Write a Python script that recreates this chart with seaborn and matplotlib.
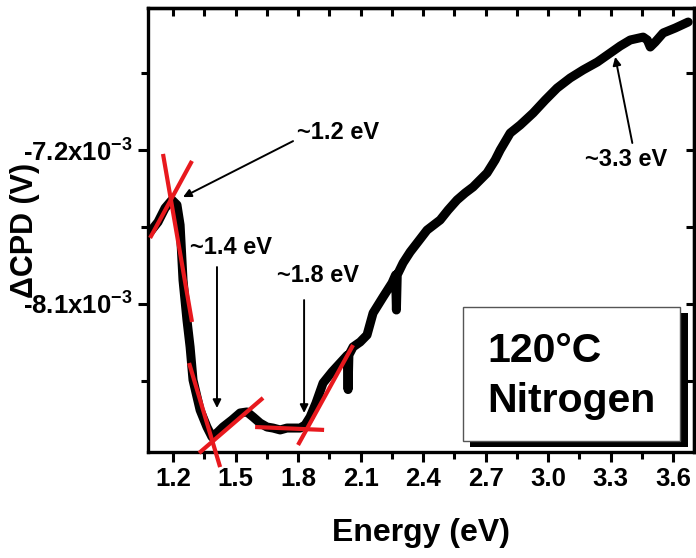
import numpy as np
import pandas as pd
import matplotlib
matplotlib.use("Agg")
import matplotlib.pyplot as plt
import seaborn as sns
from matplotlib.ticker import MultipleLocator, FixedLocator, FixedFormatter
from matplotlib.patches import Rectangle

# ---- data ----
energy = [1.090, 1.128, 1.162, 1.195, 1.219, 1.234, 1.248, 1.267, 1.282, 1.296,
          1.330, 1.363, 1.387, 1.416, 1.440, 1.483, 1.522, 1.555, 1.584, 1.618,
          1.651, 1.680, 1.714, 1.747, 1.776, 1.810, 1.834, 1.858, 1.886, 1.920,
          1.963, 2.002, 2.036, 2.040, 2.044, 2.064, 2.098, 2.131, 2.160, 2.208,
          2.251, 2.268, 2.272, 2.276, 2.304, 2.338, 2.371, 2.419, 2.482, 2.520,
          2.563, 2.602, 2.640, 2.707, 2.746, 2.770, 2.818, 2.866, 2.928, 2.986,
          3.043, 3.106, 3.168, 3.236, 3.298, 3.346, 3.394, 3.456, 3.476, 3.490,
          3.514, 3.552, 3.610, 3.672]
dcpd_mV = [-7.679, -7.621, -7.539, -7.492, -7.521, -7.638, -7.960, -8.194, -8.351, -8.544,
           -8.720, -8.819, -8.877, -8.848, -8.819, -8.778, -8.737, -8.731, -8.760, -8.796,
           -8.819, -8.825, -8.836, -8.825, -8.825, -8.825, -8.807, -8.760, -8.679, -8.562,
           -8.497, -8.445, -8.400, -8.600, -8.398, -8.351, -8.322, -8.281, -8.153, -8.059,
           -7.977, -7.930, -8.135, -7.930, -7.860, -7.796, -7.744, -7.668, -7.609, -7.551,
           -7.492, -7.451, -7.416, -7.334, -7.258, -7.200, -7.101, -7.054, -6.984, -6.908,
           -6.838, -6.779, -6.732, -6.686, -6.633, -6.592, -6.557, -6.540, -6.557, -6.598,
           -6.569, -6.516, -6.487, -6.452]

# tangent (fit) lines: start / end points
fit_x = [[1.152, 1.291], [1.090, 1.291], [1.277, 1.426],
         [1.325, 1.632], [1.594, 1.925], [1.800, 2.064]]
fit_y_mV = [[-7.223, -8.205], [-7.714, -7.264], [-8.445, -9.053],
            [-8.971, -8.649], [-8.819, -8.836], [-8.924, -8.340]]

# annotations: label, text position, arrow tail, arrow tip (energy, mV)
ann_labels = ["~1.2 eV", "~1.4 eV", "~1.8 eV", "~3.3 eV"]
ann_text_pos = [(1.795, -7.095), (1.282, -7.767), (1.699, -7.931), (3.178, -7.258)]
ann_tail = [(1.776, -7.148), (1.411, -7.884), (1.829, -8.077), (3.404, -7.159)]
ann_tip = [(1.248, -7.475), (1.411, -8.708), (1.829, -8.737), (3.322, -6.656)]

xticks = [1.2, 1.5, 1.8, 2.1, 2.4, 2.7, 3.0, 3.3, 3.6]
yticks = [-7.2e-3, -8.1e-3]
ytick_labels = ["-7.2x10$^{-3}$", "-8.1x10$^{-3}$"]
box_lines = ["120°C", "Nitrogen"]

# ---- style ----
sns.set_theme(style="white")
plt.rcParams['font.family'] = ['Liberation Sans', 'DejaVu Sans']
plt.rcParams['font.weight'] = 'bold'
plt.rcParams['text.color'] = 'black'
plt.rcParams['axes.labelcolor'] = 'black'
plt.rcParams['xtick.color'] = 'black'
plt.rcParams['ytick.color'] = 'black'
plt.rcParams['mathtext.fontset'] = 'custom'
plt.rcParams['mathtext.rm'] = 'Liberation Sans:bold'
plt.rcParams['mathtext.bf'] = 'Liberation Sans:bold'
plt.rcParams['mathtext.default'] = 'bf'

W, H = 696, 558
fig = plt.figure(figsize=(W / 100, H / 100), dpi=100)
ax = fig.add_axes([148 / W, 1 - 452 / H, 546 / W, 444 / H])

df = pd.DataFrame({"Energy": energy, "dCPD": np.array(dcpd_mV) * 1e-3})
sns.lineplot(data=df, x="Energy", y="dCPD", ax=ax, color="black", lw=6.5,
             sort=False, estimator=None, solid_capstyle="round",
             solid_joinstyle="round", zorder=3)

red = "#e8191e"
for fx, fy in zip(fit_x, fit_y_mV):
    ax.plot(fx, np.array(fy) * 1e-3, color=red, lw=3, zorder=4, clip_on=False,
            solid_capstyle="butt")

for lab, tp, tl, tip in zip(ann_labels, ann_text_pos, ann_tail, ann_tip):
    ax.text(tp[0], tp[1] * 1e-3, lab, fontsize=17, fontweight="bold",
            color="black", ha="left", va="center", zorder=6)
    ax.annotate("", xy=(tip[0], tip[1] * 1e-3), xytext=(tl[0], tl[1] * 1e-3),
                arrowprops=dict(arrowstyle="-|>", color="black", lw=1.4,
                                mutation_scale=12, shrinkA=0, shrinkB=0),
                zorder=6)

ax.set_xlim(1.080, 3.700)
ax.set_ylim(-8.965e-3, -6.370e-3)

ax.xaxis.set_major_locator(FixedLocator(xticks))
ax.xaxis.set_minor_locator(MultipleLocator(0.15))
ax.set_xticklabels([f"{v:.1f}" for v in xticks])
ax.yaxis.set_major_locator(FixedLocator(yticks))
ax.yaxis.set_major_formatter(FixedFormatter(ytick_labels))
ax.yaxis.set_minor_locator(MultipleLocator(0.45e-3))

for s in ax.spines.values():
    s.set_linewidth(2.4)
    s.set_color("black")

ax.tick_params(axis="both", which="major", direction="out", length=7, width=2.2,
               labelsize=18.5, pad=4, color="black", labelcolor="black")
ax.tick_params(axis="both", which="minor", direction="out", length=5, width=2.2,
               color="black")
ax.tick_params(bottom=True, left=True, which="both")
for lab in ax.get_xticklabels() + ax.get_yticklabels():
    lab.set_fontweight("bold")

top = ax.secondary_xaxis("top")
top.xaxis.set_major_locator(FixedLocator(xticks))
top.xaxis.set_minor_locator(MultipleLocator(0.15))
top.tick_params(which="both", direction="in", length=6, width=2.2, labeltop=False)
top.spines["top"].set_linewidth(2.4)
right = ax.secondary_yaxis("right")
right.yaxis.set_major_locator(FixedLocator(yticks))
right.yaxis.set_minor_locator(MultipleLocator(0.45e-3))
right.tick_params(which="both", direction="in", length=6, width=2.2, labelright=False)
right.spines["right"].set_linewidth(2.4)

ax.set_xlabel("Energy (eV)", fontsize=23, fontweight="bold", color="black")
ax.set_ylabel("ΔCPD (V)", fontsize=22, fontweight="bold", color="black")
ax.xaxis.set_label_coords(0.5, -0.148)
ax.yaxis.set_label_coords(-0.198, 0.5)

# legend-like text box with shadow
ax.add_patch(Rectangle((0.5897, 0.0113), 0.989 - 0.5897, 0.3131 - 0.0113,
                       transform=ax.transAxes, facecolor="black", edgecolor="none",
                       zorder=7))
ax.add_patch(Rectangle((0.5769, 0.0248), 0.9744 - 0.5769, 0.3266 - 0.0248,
                       transform=ax.transAxes, facecolor="white", edgecolor="#555555",
                       lw=1, zorder=8))
ax.text(0.6209, 0.2027, box_lines[0], transform=ax.transAxes, fontsize=29.5,
        fontweight="bold", color="black", ha="left", va="baseline", zorder=9)
ax.text(0.6209, 0.0901, box_lines[1], transform=ax.transAxes, fontsize=29.5,
        fontweight="bold", color="black", ha="left", va="baseline", zorder=9)

fig.savefig("out.png", dpi=100)
